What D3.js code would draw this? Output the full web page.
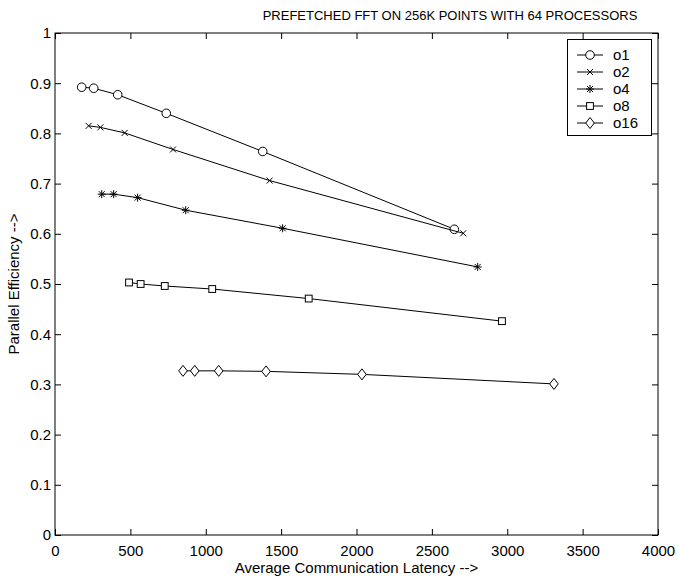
<!DOCTYPE html>
<html><head><meta charset="utf-8">
<script src="https://cdn.jsdelivr.net/npm/d3@7"></script>
<style>body{margin:0;background:#fff}svg{display:block;font-family:"Liberation Sans",Arial,sans-serif}</style>
</head><body><svg id="c" width="678" height="580"></svg>
<script>
const seriesNames = ["o1","o2","o4","o8","o16"];
const markers = ["circle","x","star","square","diamond"];
const latO1 = [177,257,416,738,1378,2649];
const effO1 = [0.892,0.890,0.877,0.840,0.764,0.609];
const latO2 = [223,301,462,783,1424,2708];
const effO2 = [0.815,0.812,0.801,0.768,0.706,0.601];
const latO4 = [310,389,548,867,1510,2804];
const effO4 = [0.679,0.679,0.672,0.647,0.611,0.534];
const latO8 = [491,568,728,1043,1683,2965];
const effO8 = [0.503,0.500,0.496,0.490,0.471,0.426];
const latO16 = [849,927,1086,1400,2036,3310];
const effO16 = [0.327,0.327,0.327,0.326,0.320,0.301];
const xTicks = [0,500,1000,1500,2000,2500,3000,3500,4000];
const yTicks = [0,0.1,0.2,0.3,0.4,0.5,0.6,0.7,0.8,0.9,1];
const yTickLabels = ["0","0.1","0.2","0.3","0.4","0.5","0.6","0.7","0.8","0.9","1"];
const titleText = "PREFETCHED FFT ON 256K POINTS WITH 64 PROCESSORS";
const xLabel = "Average Communication Latency -->";
const yLabel = "Parallel Efficiency -->";

const lats = [latO1,latO2,latO4,latO8,latO16];
const effs = [effO1,effO2,effO4,effO8,effO16];

const L=55,R=658,T=33,B=535;
const svg=d3.select("#c");
const x=d3.scaleLinear().domain([0,4000]).range([L,R]);
const y=d3.scaleLinear().domain([0,1]).range([B,T]);

function drawMarker(g,type,cx,cy){
  const s=g.append("g").attr("transform",`translate(${cx},${cy})`).attr("fill","none").attr("stroke","#000").attr("stroke-width",1);
  if(type==="circle") s.append("circle").attr("r",4.3).attr("fill","#fff");
  else if(type==="x") s.append("path").attr("d","M-3,-3L3,3M-3,3L3,-3");
  else if(type==="star") s.append("path").attr("d","M-4,0L4,0M0,-4L0,4M-3,-3L3,3M-3,3L3,-3");
  else if(type==="square") s.append("rect").attr("x",-3.4).attr("y",-3.4).attr("width",6.8).attr("height",6.8).attr("fill","#fff");
  else if(type==="diamond") s.append("path").attr("d","M0,-5.5L4.3,0L0,5.5L-4.3,0Z").attr("fill","#fff");
}

const gx=svg.append("g").attr("transform",`translate(0,${B})`)
 .call(d3.axisBottom(x).tickValues(xTicks).tickSizeInner(-6).tickSizeOuter(0).tickPadding(10).tickFormat(d3.format("d")));
const gxt=svg.append("g").attr("transform",`translate(0,${T})`)
 .call(d3.axisTop(x).tickValues(xTicks).tickSizeInner(-6).tickSizeOuter(0).tickFormat(""));
const gy=svg.append("g").attr("transform",`translate(${L},0)`)
 .call(d3.axisLeft(y).tickValues(yTicks).tickSizeInner(-6).tickSizeOuter(0).tickPadding(4).tickFormat((d,i)=>yTickLabels[i]));
const gyr=svg.append("g").attr("transform",`translate(${R},0)`)
 .call(d3.axisRight(y).tickValues(yTicks).tickSizeInner(-6).tickSizeOuter(0).tickFormat(""));
[gx,gxt,gy,gyr].forEach(g=>{g.select(".domain").remove();g.selectAll("line").attr("stroke","#000");g.selectAll("text").attr("font-size",15).attr("fill","#000").attr("font-family","Liberation Sans, Arial, sans-serif");});
svg.append("rect").attr("x",L).attr("y",T).attr("width",R-L).attr("height",B-T).attr("fill","none").attr("stroke","#000").attr("stroke-width",1);

const line=d3.line().x(d=>x(d[0])).y(d=>y(d[1]));
seriesNames.forEach((n,i)=>{
  const pts=lats[i].map((v,j)=>[v,effs[i][j]]);
  svg.append("path").attr("d",line(pts)).attr("fill","none").attr("stroke","#000").attr("stroke-width",1);
  const g=svg.append("g");
  pts.forEach(p=>drawMarker(g,markers[i],x(p[0]),y(p[1])));
});

const lg=svg.append("g");
lg.append("rect").attr("x",567.5).attr("y",39.5).attr("width",84).attr("height",96).attr("fill","#fff").attr("stroke","#000");
seriesNames.forEach((n,i)=>{
  const yy=55+i*17;
  lg.append("line").attr("x1",577).attr("x2",603).attr("y1",yy).attr("y2",yy).attr("stroke","#000");
  drawMarker(lg,markers[i],590,yy);
  lg.append("text").attr("x",613).attr("y",yy).attr("dy","0.36em").attr("font-size",15).text(n);
});

svg.append("text").attr("x",450).attr("y",20).attr("text-anchor","middle").attr("font-size",13).text(titleText);
svg.append("text").attr("x",(L+R)/2).attr("y",573).attr("text-anchor","middle").attr("font-size",15).text(xLabel);
svg.append("text").attr("transform",`translate(19,${(T+B)/2}) rotate(-90)`).attr("text-anchor","middle").attr("font-size",15).text(yLabel);
</script></body></html>
